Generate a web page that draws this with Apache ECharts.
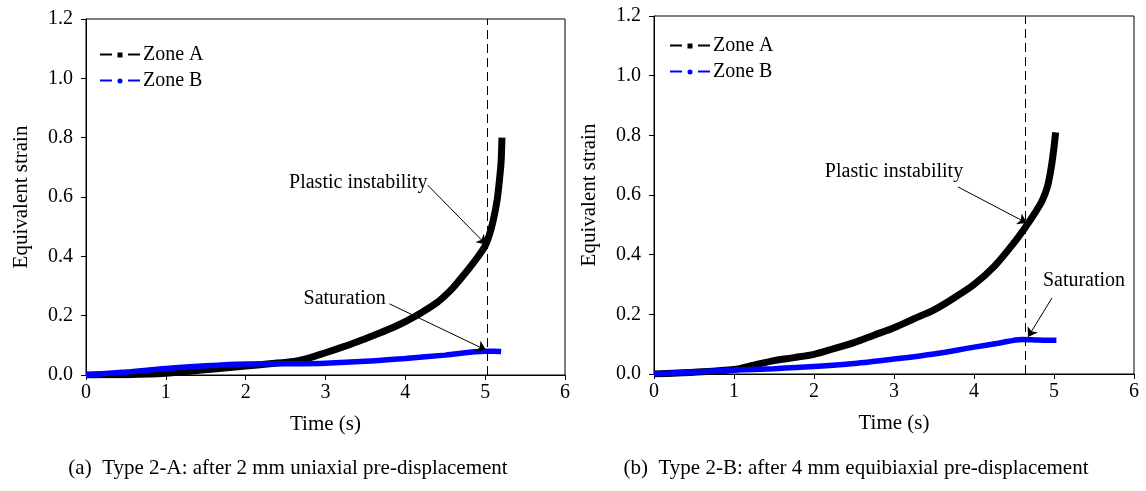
<!DOCTYPE html>
<html>
<head>
<meta charset="utf-8">
<script src="https://cdn.jsdelivr.net/npm/echarts@6/dist/echarts.min.js"></script>
<style>
html,body{margin:0;padding:0;background:#fff;}
#chart{width:1146px;height:491px;}
</style>
</head>
<body>
<div id="chart"></div>
<script>
// ---------- Data ----------
// Panel (a): Type 2-A
const aZoneATime   = [0, 0.5, 0.8, 1.0, 1.3, 1.6, 2.0, 2.3, 2.6, 2.8, 3.0, 3.2, 3.4, 3.6, 3.8, 4.0, 4.2, 4.4, 4.5, 4.6, 4.8, 4.9, 5.0, 5.05, 5.1, 5.15, 5.18, 5.2, 5.21];
const aZoneAStrain = [0, 0.001, 0.003, 0.006, 0.013, 0.02, 0.03, 0.038, 0.046, 0.058, 0.075, 0.093, 0.112, 0.133, 0.155, 0.18, 0.21, 0.245, 0.268, 0.295, 0.36, 0.395, 0.435, 0.47, 0.52, 0.59, 0.66, 0.72, 0.8];
const aZoneBTime   = [0, 0.5, 1.0, 1.5, 2.0, 2.5, 3.0, 3.5, 4.0, 4.5, 5.0, 5.1, 5.2];
const aZoneBStrain = [0, 0.01, 0.022, 0.031, 0.037, 0.038, 0.04, 0.046, 0.056, 0.067, 0.08, 0.08, 0.079];
const aInstabilityTime = 5.03;

// Panel (b): Type 2-B
const bZoneATime   = [0, 0.5, 1.0, 1.25, 1.5, 1.75, 2.0, 2.25, 2.5, 2.75, 3.0, 3.25, 3.5, 3.75, 4.0, 4.25, 4.5, 4.65, 4.75, 4.85, 4.92, 4.97, 5.0, 5.02];
const bZoneAStrain = [0, 0.006, 0.015, 0.03, 0.045, 0.055, 0.066, 0.085, 0.105, 0.13, 0.155, 0.185, 0.215, 0.255, 0.3, 0.36, 0.44, 0.495, 0.535, 0.58, 0.63, 0.7, 0.76, 0.81];
const bZoneBTime   = [0, 0.5, 1.0, 1.5, 2.0, 2.5, 3.0, 3.5, 4.0, 4.3, 4.6, 4.8, 5.0, 5.03];
const bZoneBStrain = [0, 0.007, 0.013, 0.018, 0.025, 0.035, 0.05, 0.067, 0.09, 0.103, 0.116, 0.114, 0.113, 0.113];
const bInstabilityTime = 4.645;

// Axis ticks
const xTicks = [0, 1, 2, 3, 4, 5, 6];
const yTicks = [0.0, 0.2, 0.4, 0.6, 0.8, 1.0, 1.2];

// Text
const seriesNames = ['Zone A', 'Zone B'];
const xTitle = 'Time (s)';
const yTitle = 'Equivalent strain';
const captions = ['(a)  Type 2-A: after 2 mm uniaxial pre-displacement', '(b)  Type 2-B: after 4 mm equibiaxial pre-displacement'];

// Annotations (data coordinates): [label, labelPos, arrowStart, arrowEnd]
const aAnnotations = [
  ['Plastic instability', [3.41, 0.647], [4.28, 0.64], [5.01, 0.44]],
  ['Saturation',          [3.24, 0.256], [3.8, 0.24],  [5.01, 0.084]]
];
const bAnnotations = [
  ['Plastic instability', [3.0, 0.677],  [3.8, 0.627],  [4.66, 0.506]],
  ['Saturation',          [5.375, 0.312],[4.975, 0.255],[4.675, 0.124]]
];

// ---------- Chart ----------
const FONT = '"Liberation Serif", "Times New Roman", serif';
const zip = (xs, ys) => xs.map((x, i) => [x, ys[i]]);

const iconA = 'path://M0,1.1H12V2.9H0Z M17.5,0H22.5V5H17.5Z M28,1.1H40V2.9H28Z';
const iconB = 'path://M0,1.1H12V2.9H0Z M17.5,2.5a2.5,2.5 0 1,0 5,0a2.5,2.5 0 1,0 -5,0Z M28,1.1H40V2.9H28Z';

const grids = [
  {left: 86, top: 19, width: 479, height: 356},
  {left: 654, top: 16, width: 480, height: 358}
];

function xAxis(gi) {
  return {
    type: 'value', gridIndex: gi, min: xTicks[0], max: xTicks[xTicks.length - 1], interval: 1,
    name: xTitle, nameLocation: 'middle', nameGap: 39,
    nameTextStyle: {fontFamily: FONT, fontSize: 21, color: '#000'},
    axisLine: {show: true, onZero: false, lineStyle: {color: '#000', width: 1}},
    axisTick: {show: true, inside: false, length: 5, lineStyle: {color: '#000'}},
    axisLabel: {fontFamily: FONT, fontSize: 20, color: '#000', margin: 8},
    splitLine: {show: false}
  };
}
function yAxis(gi) {
  return {
    type: 'value', gridIndex: gi, min: yTicks[0], max: yTicks[yTicks.length - 1], interval: 0.2,
    name: yTitle, nameLocation: 'middle', nameGap: 54, nameRotate: 90,
    nameTextStyle: {fontFamily: FONT, fontSize: 21, color: '#000'},
    axisLine: {show: true, onZero: false, lineStyle: {color: '#000', width: 1}},
    axisTick: {show: true, inside: false, length: 5, lineStyle: {color: '#000'}},
    axisLabel: {fontFamily: FONT, fontSize: 20, color: '#000', margin: 13, formatter: v => v.toFixed(1)},
    splitLine: {show: false}
  };
}

function annotationMarks(annots) {
  return {
    markLine: {
      silent: true, animation: false,
      symbol: ['none', 'arrow'], symbolSize: 9,
      lineStyle: {color: '#000', width: 1, type: 'solid'},
      label: {show: false},
      data: annots.map(a => [{coord: a[2], symbol: 'none'}, {coord: a[3], symbol: 'arrow', symbolSize: 9}])
    },
    markPoint: {
      silent: true, animation: false,
      symbol: 'circle', symbolSize: 1,
      itemStyle: {color: 'rgba(0,0,0,0)'},
      label: {show: true, position: 'inside', color: '#000', fontFamily: FONT, fontSize: 20},
      data: annots.map(a => ({coord: a[1], label: {formatter: a[0]}}))
    }
  };
}

function panelSeries(gi, aT, aS, bT, bS, tInst, annots) {
  const marks = annotationMarks(annots);
  return [
    Object.assign({
      name: seriesNames[0], type: 'line', xAxisIndex: gi, yAxisIndex: gi,
      data: zip(aT, aS), showSymbol: false, smooth: 0.3, symbol: 'rect',
      lineStyle: {color: '#000', width: 7}, itemStyle: {color: '#000'},
      z: 3
    }, marks),
    {
      name: seriesNames[1], type: 'line', xAxisIndex: gi, yAxisIndex: gi,
      data: zip(bT, bS), showSymbol: false, smooth: 0.3, symbol: 'circle',
      lineStyle: {color: '#0000ff', width: 5.5}, itemStyle: {color: '#0000ff'},
      z: 4,
      markLine: {
        silent: true, animation: false, symbol: ['none', 'none'],
        lineStyle: {color: '#000', width: 1, type: [9, 5]},
        label: {show: false},
        data: [{xAxis: tInst}]
      }
    }
  ];
}

function legend(left, top) {
  return {
    orient: 'vertical', left: left, top: top, itemWidth: 40, itemHeight: 5, itemGap: 6,
    selectedMode: false,
    itemStyle: {borderWidth: 0},
    textStyle: {fontFamily: FONT, fontSize: 20, color: '#000', padding: [0, 0, 0, -2]},
    data: [{name: seriesNames[0], icon: iconA}, {name: seriesNames[1], icon: iconB}]
  };
}

const chart = echarts.init(document.getElementById('chart'), null, {renderer: 'canvas'});
chart.setOption({
  animation: false,
  backgroundColor: '#fff',
  grid: grids.map(g => Object.assign({show: true, borderColor: '#000', borderWidth: 1, backgroundColor: 'transparent'}, g)),
  xAxis: [xAxis(0), xAxis(1)],
  yAxis: [yAxis(0), yAxis(1)],
  legend: [legend(95, 40), legend(665, 31)],
  series: [].concat(
    panelSeries(0, aZoneATime, aZoneAStrain, aZoneBTime, aZoneBStrain, aInstabilityTime, aAnnotations),
    panelSeries(1, bZoneATime, bZoneAStrain, bZoneBTime, bZoneBStrain, bInstabilityTime, bAnnotations)
  ),
  graphic: [
    {type: 'text', x: 288, y: 458, style: {text: captions[0], font: '21px ' + FONT, fill: '#000', textAlign: 'center'}},
    {type: 'text', x: 856, y: 458, style: {text: captions[1], font: '21px ' + FONT, fill: '#000', textAlign: 'center'}}
  ]
});
</script>
</body>
</html>
